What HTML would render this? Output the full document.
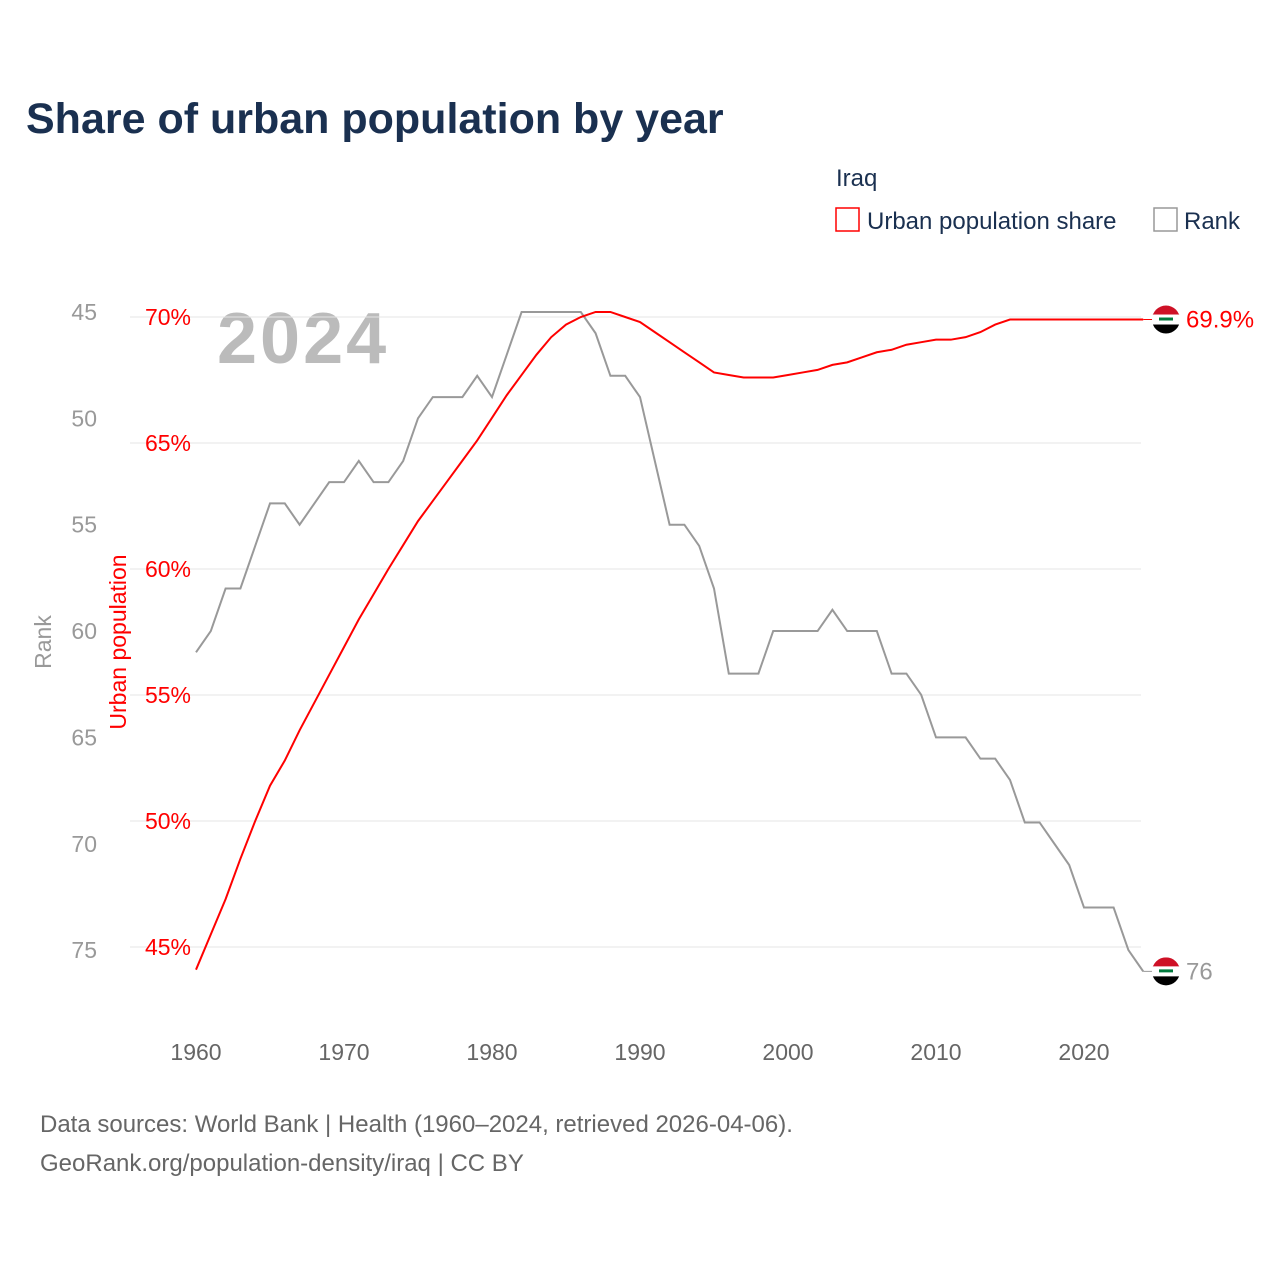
<!DOCTYPE html>
<html><head><meta charset="utf-8"><style>
body{margin:0;background:#fff;font-family:"Liberation Sans",sans-serif;}
svg text{font-family:"Liberation Sans",sans-serif;}
</style></head><body>
<svg id="c" width="1280" height="1280" xmlns="http://www.w3.org/2000/svg">
<text x="26" y="133" font-size="43" font-weight="bold" fill="#1a3050">Share of urban population by year</text>
<text x="836" y="186" font-size="24" fill="#1a3050">Iraq</text>
<rect x="836" y="208" width="23" height="23" fill="none" stroke="red" stroke-width="1.5"/>
<text x="867" y="229" font-size="24" fill="#1a3050">Urban population share</text>
<rect x="1154" y="208" width="23" height="23" fill="none" stroke="#999" stroke-width="1.5"/>
<text x="1184" y="229" font-size="24" fill="#1a3050">Rank</text>
<text x="217" y="363" font-size="72" font-weight="bold" fill="#bbb" letter-spacing="3">2024</text>
<text transform="translate(51,642) rotate(-90)" font-size="23" fill="#999" text-anchor="middle">Rank</text>
<text transform="translate(126,642) rotate(-90)" font-size="23" fill="red" text-anchor="middle">Urban population</text>
<g id="g"></g>
<text x="40" y="1132" font-size="24" fill="#666">Data sources: World Bank | Health (1960–2024, retrieved 2026-04-06).</text>
<text x="40" y="1171" font-size="24" fill="#666">GeoRank.org/population-density/iraq | CC BY</text>
</svg>
<script>
const years=[];for(let y=1960;y<=2024;y++)years.push(y);
const urbanShare=[44.1,45.5,46.9,48.5,50.0,51.4,52.4,53.6,54.7,55.8,56.9,58.0,59.0,60.0,60.95,61.9,62.7,63.5,64.3,65.1,66.0,66.9,67.7,68.5,69.2,69.7,70.0,70.2,70.2,70.0,69.8,69.4,69.0,68.6,68.2,67.8,67.7,67.6,67.6,67.6,67.7,67.8,67.9,68.1,68.2,68.4,68.6,68.7,68.9,69.0,69.1,69.1,69.2,69.4,69.7,69.9,69.9,69.9,69.9,69.9,69.9,69.9,69.9,69.9,69.9];
const rankValues=[61,60,58,58,56,54,54,55,54,53,53,52,53,53,52,50,49,49,49,48,49,47,45,45,45,45,45,46,48,48,49,52,55,55,56,58,62,62,62,60,60,60,60,59,60,60,60,62,62,63,65,65,65,66,66,67,69,69,70,71,73,73,73,75,76];
const urbanTicks=[45,50,55,60,65,70];
const rankTicks=[45,50,55,60,65,70,75];
const xTicks=[1960,1970,1980,1990,2000,2010,2020];
const X=y=>196+(y-1960)*14.8;
const YU=v=>947-(v-45)*25.2;
const YR=v=>312+(v-45)*21.27;
const g=document.getElementById('g');const NS='http://www.w3.org/2000/svg';
function mk(t,a,txt){const e=document.createElementNS(NS,t);for(const k in a)e.setAttribute(k,a[k]);if(txt!=null)e.textContent=txt;g.appendChild(e);return e;}
urbanTicks.forEach(v=>{
 const l=mk('line',{x1:130,x2:1141,y1:YU(v),y2:YU(v),stroke:'#e6e6e6','stroke-width':1});
 
 
 const t=mk('text',{x:191,y:YU(v)+8,'font-size':23,fill:'red','text-anchor':'end'},v+'%');
 
 
});
rankTicks.forEach(v=>{
 const t=mk('text',{x:97,y:YR(v)+8,'font-size':23,fill:'#999','text-anchor':'end'},v);
 
 
});
xTicks.forEach(v=>{
 const t=mk('text',{x:X(v),y:1060,'font-size':23,fill:'#666','text-anchor':'middle'},v);
 
 
});
const pr=mk('polyline',{points:years.map((y,i)=>X(y)+','+YR(rankValues[i])).join(' '),fill:'none',stroke:'#999','stroke-width':2});


const pu=mk('polyline',{points:years.map((y,i)=>X(y)+','+YU(urbanShare[i])).join(' '),fill:'none',stroke:'red','stroke-width':2});


function flag(cx,cy,name){
 const cl=mk('clipPath',{id:'cl'+name});const c=document.createElementNS(NS,'circle');c.setAttribute('cx',cx);c.setAttribute('cy',cy);c.setAttribute('r',14);cl.appendChild(c);
 const gg=mk('g',{'clip-path':'url(#cl'+name+')'});
 
 
 [['#ce1126',-14],['#fff',-5],['#000',5]].forEach(([f,o])=>{const r=document.createElementNS(NS,'rect');r.setAttribute('x',cx-14);r.setAttribute('y',cy+o);r.setAttribute('width',28);r.setAttribute('height',o==5?10:9.5);r.setAttribute('fill',f);gg.appendChild(r);});
 const s=document.createElementNS(NS,'rect');s.setAttribute('x',cx-7);s.setAttribute('y',cy-2);s.setAttribute('width',14);s.setAttribute('height',3);s.setAttribute('fill','#007a3d');gg.appendChild(s);
}
const lx=X(2024),ex=1166;
mk('line',{x1:lx,x2:ex,y1:YU(69.9),y2:YU(69.9),stroke:'red','stroke-width':1});
mk('line',{x1:lx,x2:ex,y1:YR(76),y2:YR(76),stroke:'#999','stroke-width':1});
flag(ex,YU(69.9),'flag-urban-end');
flag(ex,YR(76),'flag-rank-end');
const a=mk('text',{x:1186,y:YU(69.9)+8,'font-size':24,fill:'red'},urbanShare[urbanShare.length-1].toFixed(1)+'%');


const b=mk('text',{x:1186,y:YR(76)+8,'font-size':24,fill:'#999'},rankValues[rankValues.length-1]);


</script>
</body></html>
